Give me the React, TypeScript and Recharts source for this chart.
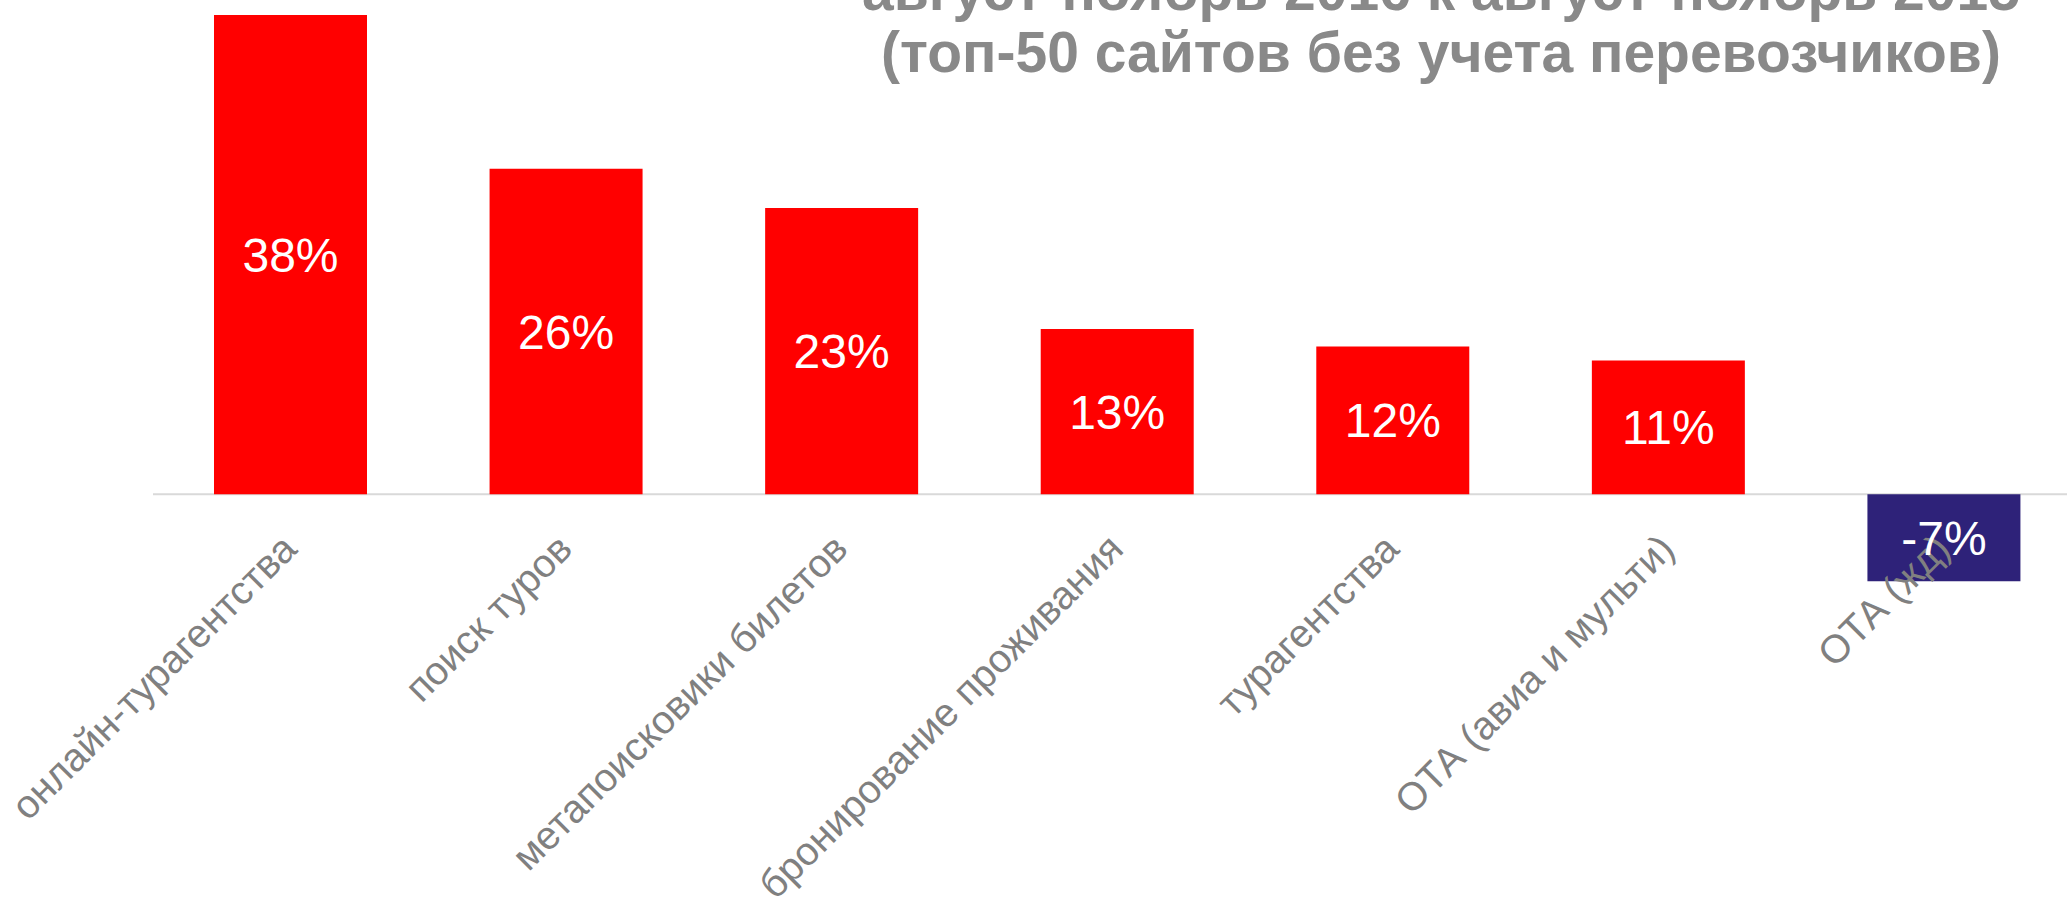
import React from 'react'
import { BarChart, Bar, XAxis, YAxis, Cell, LabelList, CartesianGrid } from 'recharts'

// growth of audience, Aug-Nov 2016 vs Aug-Nov 2015
const categories = [
    'онлайн-турагентства',
    'поиск туров',
    'метапоисковики билетов',
    'бронирование проживания',
    'турагентства',
    'ОТА (авиа и мульти)',
    'ОТА (жд)',
]
const growth = [38, 25.8, 22.7, 13.1, 11.7, 10.6, -6.9]
const titleLines = [
    'август-ноябрь 2016 к август-ноябрь 2015',
    '(топ-50 сайтов без учета перевозчиков)',
]

const data = categories.map((name, i) => ({ name, value: growth[i] }))

const FONT = '"Liberation Sans", Arial, sans-serif'
const TOP = 15
const PLOT_H = 580
const Y_MIN = -8
const Y_MAX = 38
const CHART_H = 897
// distance between the zero line and the bottom of the plot area
const DROP = PLOT_H * (0 - Y_MIN) / (Y_MAX - Y_MIN)

function AxisTick(props: any) {
    const { x, y, payload } = props
    const ax = x + 8
    const ay = y - DROP + 57
    return (
        <text x={ax} y={ay} transform={`rotate(-45, ${ax}, ${ay})`} textAnchor="end"
            fontSize={39.5} fill="#808080" fontFamily={FONT}>
            {payload.value}
        </text>
    )
}

export default function App() {
    return (
        <div style={{ position: 'fixed', left: 0, top: 0, width: 2067, height: 897, overflow: 'hidden', background: '#fff' }}>
            <BarChart width={2082} height={CHART_H} data={data}
                margin={{ top: TOP, right: 0, left: 153, bottom: 0 }}>
                <CartesianGrid vertical={false} horizontalValues={[0]} stroke="#D9D9D9" strokeWidth={2} />
                <XAxis dataKey="name" interval={0}
                    axisLine={false} tickLine={false} tickSize={0} tickMargin={0}
                    height={CHART_H - TOP - PLOT_H} tick={<AxisTick />} />
                <YAxis hide domain={[Y_MIN, Y_MAX]} allowDataOverflow />
                <Bar dataKey="value" barSize={153} isAnimationActive={false}>
                    {data.map((d, i) => (
                        <Cell key={i} fill={d.value < 0 ? '#2E2279' : '#FF0000'} />
                    ))}
                    <LabelList dataKey="value" position="center" fill="#fff" fontSize={48}
                        fontFamily={FONT} formatter={(v: any) => `${Math.round(v)}%`} />
                </Bar>
            </BarChart>
            <div style={{
                position: 'absolute', left: 1441, top: -41, transform: 'translateX(-50%)',
                whiteSpace: 'nowrap', textAlign: 'center', fontFamily: FONT, fontWeight: 700,
                fontSize: 57, lineHeight: '62px', color: '#898989',
            }}>
                {titleLines.map((t, i) => <div key={i}>{t}</div>)}
            </div>
        </div>
    )
}
